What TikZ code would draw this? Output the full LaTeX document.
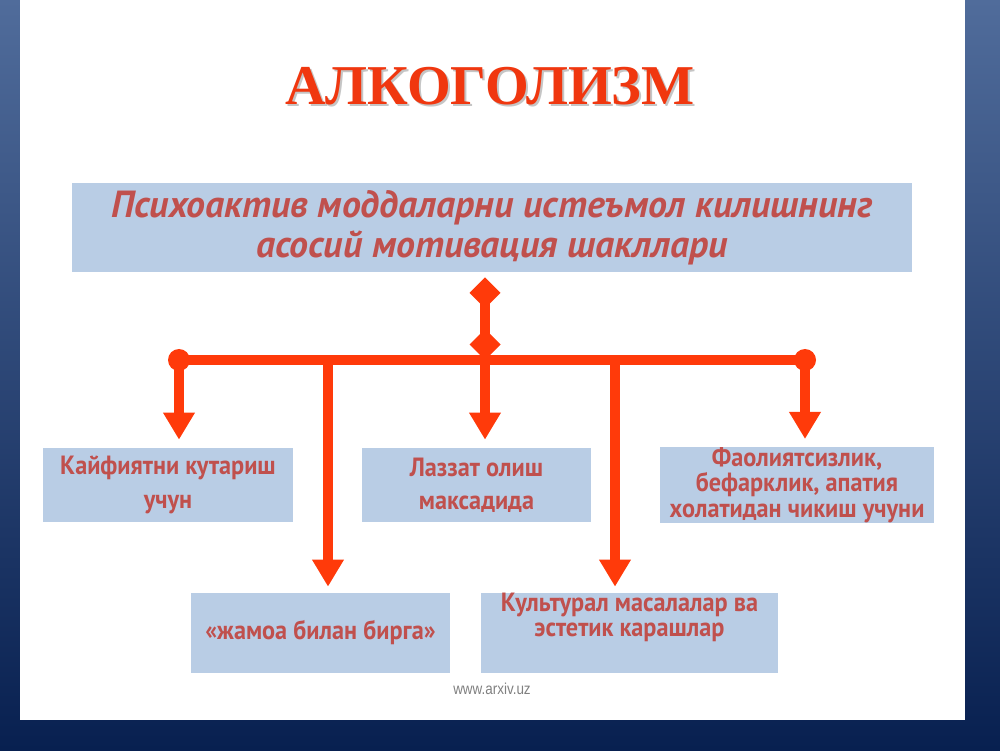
\documentclass[tikz,border=0pt]{standalone}
\usepackage{fontspec}
\usetikzlibrary{arrows.meta, positioning}

\newfontfamily\titlefont{Liberation Serif}
\newfontfamily\headfont{PT Sans}
\newfontfamily\boxfont{PT Sans}[FakeStretch=0.92]
\newfontfamily\webfont{Liberation Sans}[FakeStretch=0.85]

\definecolor{arrowred}{RGB}{255,58,10}
\definecolor{titlered}{RGB}{240,55,15}
\definecolor{textred}{RGB}{192,80,77}
\definecolor{boxblue}{RGB}{185,205,229}
\definecolor{bgtop}{RGB}{80,108,155}
\definecolor{bgbot}{RGB}{8,32,80}

\tikzset{
  boxtext/.style={inner sep=0pt, align=center, text=textred, font=\boxfont\bfseries\fontsize{15}{19}\selectfont},
  box/.style={boxtext, fill=boxblue},
  tight/.style={font=\boxfont\bfseries\fontsize{15}{14.5}\selectfont},
  link/.style={draw=arrowred, line width=0.2cm},
  drop/.style={link, -{Triangle[length=0.54cm, width=0.6cm]}}
}

\begin{document}
\begin{tikzpicture}

\useasboundingbox (0,0) rectangle (20,15);
\shade [top color=bgtop, bottom color=bgbot] (0,0) rectangle (20,15);
\fill [white] (0.4,0.6) rectangle (19.3,15);

\node (titleshadow) [font=\titlefont\bfseries\fontsize{32}{32}\selectfont, text=black!45, opacity=0.5] at (9.84,13.24) {АЛКОГОЛИЗМ};
\node (title) [font=\titlefont\bfseries\fontsize{32}{32}\selectfont, text=titlered] at (9.8,13.28) {АЛКОГОЛИЗМ};

\node (motiv) [box, minimum width=16.8cm, minimum height=1.78cm, font=\headfont\bfseries\itshape\fontsize{21.5}{22.5}\selectfont] at (9.84,10.45) {Психоактив моддаларни истеъмол килишнинг\\асосий мотивация шакллари};

\node (kayf) [box, minimum width=5cm, minimum height=1.48cm] at (3.36,5.3) {Кайфиятни кутариш\\учун};
\node (lazzat) [box, minimum width=4.58cm, minimum height=1.48cm] at (9.53,5.3) {Лаззат олиш\\максадида};
\node (faol) [box, tight, minimum width=5.48cm, minimum height=1.48cm] at (15.94,5.3) {Фаолиятсизлик,\\бефарклик, апатия\\холатидан чикиш учуни};

\node (jamoa) [box, minimum width=5.18cm, minimum height=1.6cm] at (6.41,2.34) {«жамоа билан бирга»};
\node (kult) [box, minimum width=5.94cm, minimum height=1.6cm] at (12.59,2.34) {};
\node (kulttext) [boxtext, tight, below=0cm of kult.north] {Культурал масалалар ва\\эстетик карашлар};

\coordinate (dL) at (3.58,7.8);
\coordinate (d2) at (6.56,7.8);
\coordinate (dm) at (9.7,7.8);
\coordinate (d4) at (12.3,7.8);
\coordinate (dR) at (16.1,7.8);

\draw [link] (dL) -- (dR);
\draw [link, {Diamond[length=0.62cm, width=0.62cm]}-{Diamond[length=0.62cm, width=0.62cm]}, shorten >=0.1cm] (dm) -- (dm |- motiv.south);

\draw [drop, shorten >=0.16cm] (dL) -- (dL |- kayf.north);
\draw [drop, shorten >=0.16cm] (dm) -- (dm |- lazzat.north);
\draw [drop, shorten >=0.16cm] (dR) -- (dR |- faol.north);
\draw [drop, shorten >=0.12cm] (d2) -- (d2 |- jamoa.north);
\draw [drop, shorten >=0.12cm] (d4) -- (d4 |- kult.north);

\fill [arrowred] (dL) circle (0.22cm);
\fill [arrowred] (dR) circle (0.22cm);

\node (web) [font=\webfont\fontsize{9}{9}\selectfont, text=gray] at (9.84,1.22) {www.arxiv.uz};

\end{tikzpicture}
\end{document}
